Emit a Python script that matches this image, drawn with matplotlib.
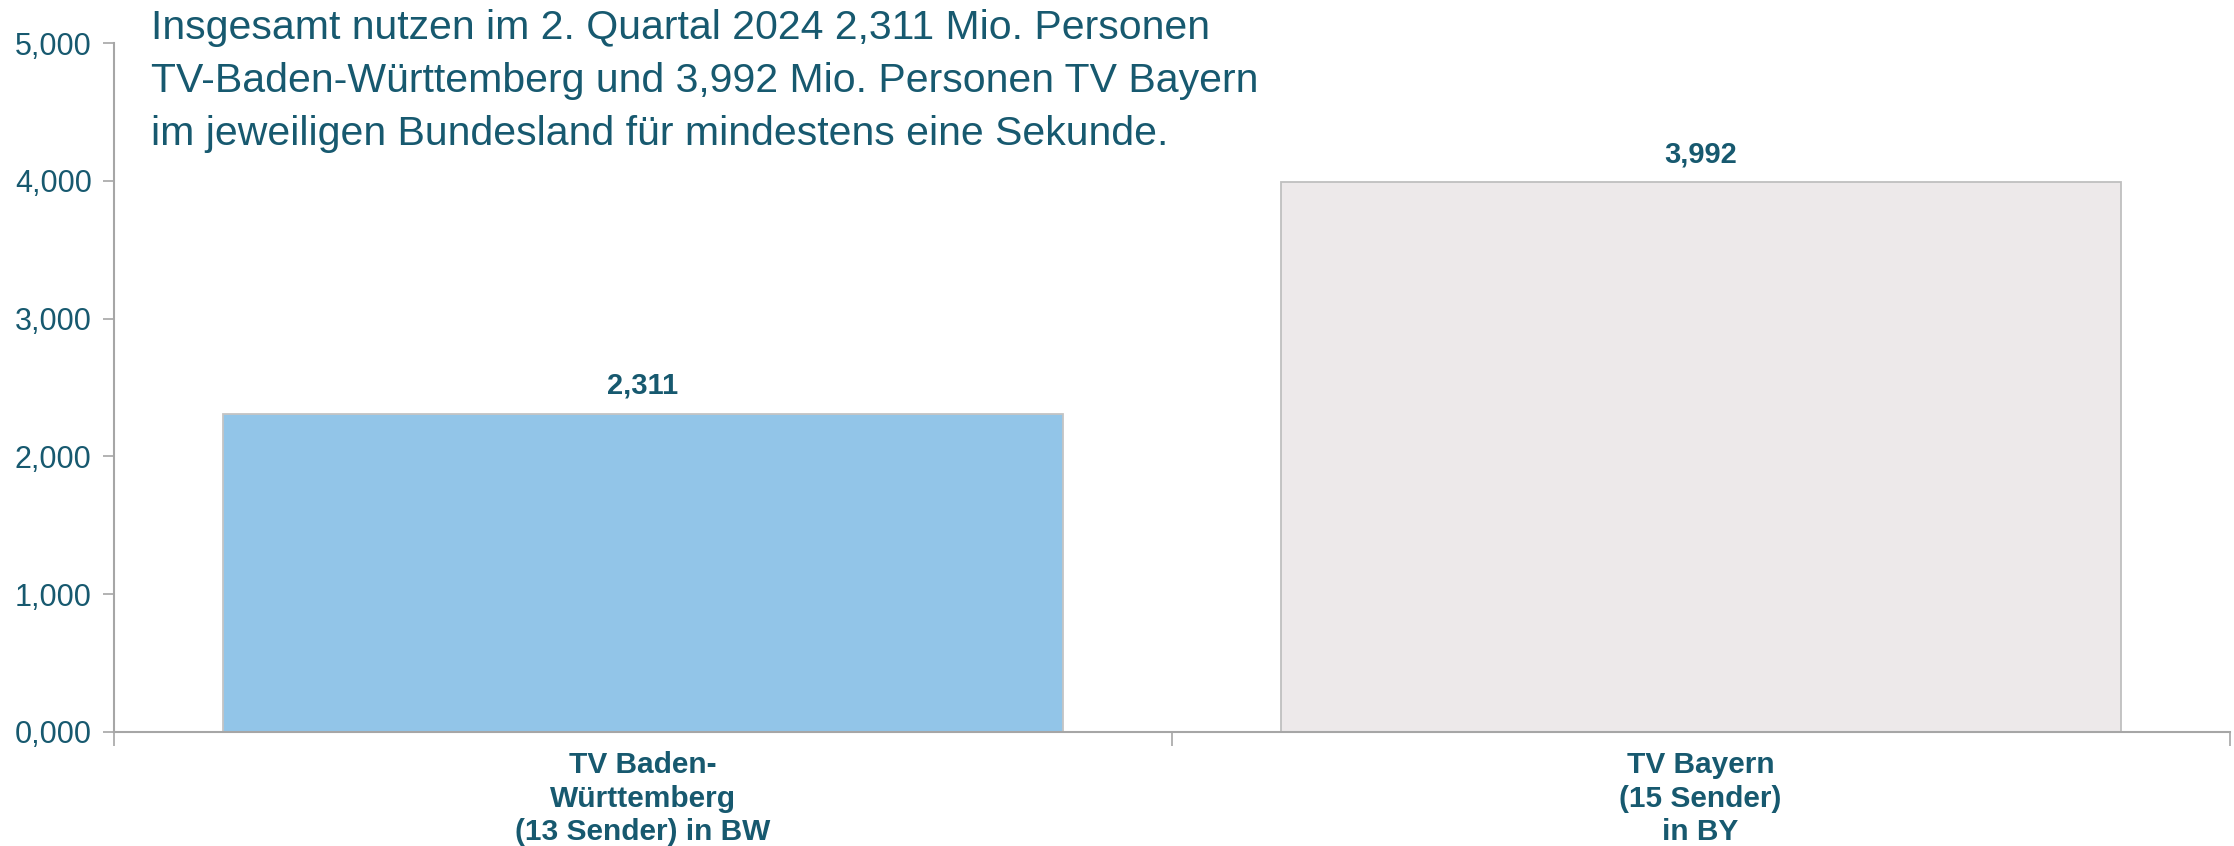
import matplotlib.pyplot as plt
from matplotlib.ticker import FuncFormatter

# data
categories = ["TV Baden-\nWürttemberg\n(13 Sender) in BW", "TV Bayern\n(15 Sender)\nin BY"]
values = [2311, 3992]
value_labels = ["2,311", "3,992"]
y_ticks = [0, 1000, 2000, 3000, 4000, 5000]
title = ("Insgesamt nutzen im 2. Quartal 2024 2,311 Mio. Personen\n"
         "TV-Baden-Württemberg und 3,992 Mio. Personen TV Bayern\n"
         "im jeweiligen Bundesland für mindestens eine Sekunde.")

text_col = "#17596F"
axis_col = "#A6A6A6"
fills = ["#92C5E8", "#EDE9EA"]
edges = ["#C4C4C4", "#BFBFBF"]

plt.rcParams['font.family'] = ['Liberation Sans', 'DejaVu Sans']

fig = plt.figure(figsize=(22.34, 8.46), dpi=100)
ax = fig.add_axes([0.051, 0.1348, 0.947, 0.8142])

x = list(range(len(categories)))
bars = ax.bar(x, values, width=0.794, color=fills, edgecolor=edges, linewidth=1.3, zorder=2)

for b, lab in zip(bars, value_labels):
    ax.annotate(lab, (b.get_x() + b.get_width() / 2, b.get_height()),
                xytext=(0, 10), textcoords="offset points",
                ha="center", va="bottom", fontsize=21, fontweight="bold", color=text_col)

ax.set_xlim(-0.5, 1.5)
ax.set_ylim(0, 5000)

# y axis
ax.set_yticks(y_ticks)
ax.yaxis.set_major_formatter(FuncFormatter(lambda v, p: f"{v/1000:.3f}".replace(".", ",")))
ax.tick_params(axis="y", length=8, width=1.2, color=axis_col, labelsize=22,
               labelcolor=text_col, pad=8)

# x axis: boundary ticks, labels centered
ax.set_xticks([-0.5, 0.5, 1.5])
ax.set_xticklabels([])
ax.set_xticks(x, minor=True)
ax.set_xticklabels(categories, minor=True, fontsize=21.5, fontweight="bold",
                   color=text_col, linespacing=1.25)
ax.tick_params(axis="x", which="major", length=10, width=1.2, color=axis_col)
ax.tick_params(axis="x", which="minor", length=0, pad=14)

for s in ["top", "right"]:
    ax.spines[s].set_visible(False)
for s in ["left", "bottom"]:
    ax.spines[s].set_color(axis_col)
    ax.spines[s].set_linewidth(1.5)

fig.text(151 / 2234, 1 - 9 / 846, title, ha="left", va="top", fontsize=29.5,
         color=text_col, linespacing=1.5)

fig.savefig("out.png", dpi=100)
